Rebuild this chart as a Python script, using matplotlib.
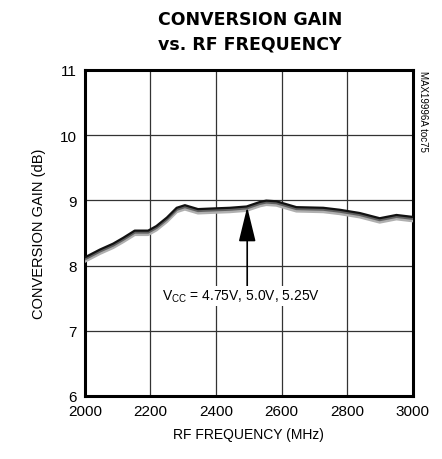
import matplotlib
matplotlib.use('Agg')
import matplotlib.pyplot as plt
import numpy as np

# conversion gain readings, Vcc = 5.0V (middle trace)
freq = [2000, 2046, 2086, 2117, 2152, 2193, 2218, 2250, 2280, 2305, 2345,
        2391, 2442, 2493, 2534, 2553, 2584, 2645, 2727, 2777, 2838, 2899,
        2950, 3000]
gain = [8.10, 8.22, 8.31, 8.40, 8.51, 8.51, 8.58, 8.71, 8.86, 8.90, 8.84,
        8.85, 8.86, 8.88, 8.95, 8.97, 8.96, 8.87, 8.86, 8.83, 8.78, 8.70,
        8.75, 8.72]
gain_hi = [g + 0.025 for g in gain]   # 5.25V
gain_lo = [g - 0.035 for g in gain]   # 4.75V

xticks = [2000, 2200, 2400, 2600, 2800, 3000]
yticks = [6, 7, 8, 9, 10, 11]

plt.rcParams['font.family'] = ['Liberation Sans', 'DejaVu Sans']

fig = plt.figure(figsize=(4.42, 4.60), dpi=100)
ax = fig.add_axes([0.192, 0.137, 0.742, 0.709])

ax.plot(freq, gain_lo, color='#b0b0b0', lw=2.2, zorder=3)
ax.plot(freq, gain, color='#606060', lw=2.0, zorder=4)
ax.plot(freq, gain_hi, color='#111111', lw=1.6, zorder=5)

ax.set_xlim(2000, 3000)
ax.set_ylim(6, 11)
ax.set_xticks(xticks)
ax.set_yticks(yticks)
ax.tick_params(length=0, labelsize=11, pad=6)
ax.grid(True, color='#333333', lw=0.9)
for s in ax.spines.values():
    s.set_linewidth(2.2)

ax.set_xlabel('RF FREQUENCY (MHz)', fontsize=10, labelpad=6)
ax.set_ylabel('CONVERSION GAIN (dB)', fontsize=10.5, labelpad=10)

ax.annotate('', xy=(2495, 8.94), xytext=(2495, 7.64),
            arrowprops=dict(arrowstyle='-|>,head_length=0.9,head_width=0.22',
                            color='black', lw=1.2, mutation_scale=24), zorder=6)
ax.text(2477, 7.53, r'V$_{\mathregular{CC}}$ = 4.75V, 5.0V, 5.25V',
        ha='center', va='center', fontsize=10,
        bbox=dict(facecolor='white', edgecolor='none', pad=1.5), zorder=7)

fig.text(0.957, 0.846, 'MAX19996A toc75', rotation=270, ha='center', va='top',
         fontsize=7)

fig.text(0.565, 0.957, 'CONVERSION GAIN', ha='center', va='center',
         fontsize=12.5, fontweight='bold', family=['DejaVu Sans'])
fig.text(0.565, 0.903, 'vs. RF FREQUENCY', ha='center', va='center',
         fontsize=12.5, fontweight='bold', family=['DejaVu Sans'])

fig.savefig('out.png', dpi=100)
